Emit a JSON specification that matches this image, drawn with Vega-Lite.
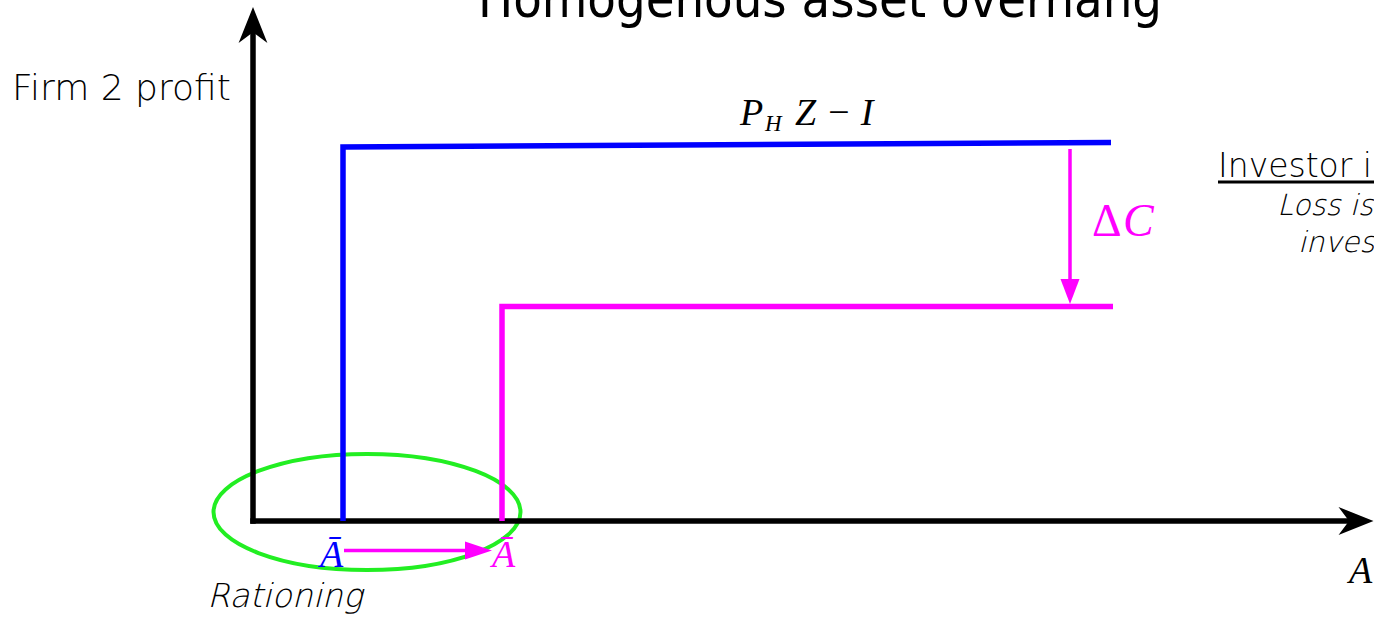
{
  "$schema": "https://vega.github.io/schema/vega-lite/v6.json",
  "width": 1374,
  "height": 619,
  "autosize": {"type": "fit", "contains": "padding"},
  "padding": 0,
  "background": "white",
  "config": {"view": {"stroke": null}},
  "datasets": {
    "axes": [
      {"name": "profit axis", "x": 0, "y": 0, "x2": 0, "y2": 490},
      {"name": "A axis", "x": 0, "y": 0, "x2": 1096, "y2": 0}
    ],
    "axisHeadsUp": [{"x": 0, "y": 496}],
    "axisHeadsRight": [{"x": 1103, "y": 0}],
    "blue": [
      {"order": 1, "x": 90, "y": 0},
      {"order": 2, "x": 90, "y": 374},
      {"order": 3, "x": 858, "y": 378.5}
    ],
    "magenta": [
      {"order": 1, "x": 249, "y": 0},
      {"order": 2, "x": 249, "y": 214.5},
      {"order": 3, "x": 860, "y": 214.5}
    ],
    "shafts": [
      {"name": "delta C", "x": 817, "y": 372, "x2": 817, "y2": 236},
      {"name": "A shift", "x": 91, "y": -29.5, "x2": 217, "y2": -29.5}
    ],
    "headDown": [{"x": 817, "y": 229.5}],
    "headRight": [{"x": 225.5, "y": -29.5}],
    "ellipse": [{"x": 114, "y": 9}],
    "underline": [{"x": 965, "y": 339, "x2": 1121, "y2": 339}],
    "title": [{"x": 567, "y": 504, "text": "Homogenous asset overhang"}],
    "sansProfit": [{"x": -241, "y": 421, "text": "Firm 2 profit"}],
    "sansInvestor": [{"x": 965, "y": 344, "text": "Investor i"}],
    "sansRationing": [{"x": -46, "y": -86, "text": "Rationing"}],
    "sansItalic": [
      {"x": 1024, "y": 306, "text": "Loss is"},
      {"x": 1045, "y": 269, "text": "inves"}
    ],
    "mathBig": [
      {"x": 487, "y": 396, "text": "P"},
      {"x": 542, "y": 396, "text": "Z − I"},
      {"x": 1096, "y": -62, "text": "A"}
    ],
    "mathSub": [{"x": 512, "y": 390, "text": "H"}],
    "abarBlue": [{"x": 67, "y": -46, "text": "Ā"}],
    "abarMagenta": [{"x": 239, "y": -46, "text": "Ā"}],
    "deltaUp": [{"x": 839, "y": 285, "text": "Δ"}],
    "deltaC": [{"x": 870, "y": 285, "text": "C"}]
  },
  "encoding": {
    "x": {"field": "x", "type": "quantitative", "scale": {"domain": [-253, 1121], "nice": false, "zero": false}, "axis": null},
    "y": {"field": "y", "type": "quantitative", "scale": {"domain": [-98, 521], "nice": false, "zero": false}, "axis": null}
  },
  "layer": [
    {
      "data": {"name": "ellipse"},
      "mark": {"type": "point", "clip": true, "filled": false, "stroke": "#22ee22", "strokeWidth": 4, "opacity": 1, "size": 94249,
        "shape": "M-1,0 A1,0.378 0 1,1 1,0 A1,0.378 0 1,1 -1,0 Z"}
    },
    {
      "data": {"name": "axes"},
      "mark": {"type": "rule", "clip": true, "color": "black", "strokeWidth": 5.5, "strokeCap": "square"},
      "encoding": {"x2": {"field": "x2"}, "y2": {"field": "y2"}}
    },
    {
      "data": {"name": "axisHeadsUp"},
      "mark": {"type": "point", "clip": true, "filled": true, "fill": "black", "stroke": null, "opacity": 1, "size": 1296,
        "shape": "M0,-1 L0.8,1 L0,0.4 L-0.8,1 Z"}
    },
    {
      "data": {"name": "axisHeadsRight"},
      "mark": {"type": "point", "clip": true, "filled": true, "fill": "black", "stroke": null, "opacity": 1, "size": 1225,
        "shape": "M1,0 L-1,-0.8 L-0.4,0 L-1,0.8 Z"}
    },
    {
      "data": {"name": "blue"},
      "mark": {"type": "line", "clip": true, "color": "#0000ff", "strokeWidth": 5.5, "strokeJoin": "miter"},
      "encoding": {"order": {"field": "order", "type": "quantitative"}}
    },
    {
      "data": {"name": "magenta"},
      "mark": {"type": "line", "clip": true, "color": "#ff00ff", "strokeWidth": 5.5, "strokeJoin": "miter"},
      "encoding": {"order": {"field": "order", "type": "quantitative"}}
    },
    {
      "data": {"name": "shafts"},
      "mark": {"type": "rule", "clip": true, "color": "#ff00ff", "strokeWidth": 3.5},
      "encoding": {"x2": {"field": "x2"}, "y2": {"field": "y2"}}
    },
    {
      "data": {"name": "headDown"},
      "mark": {"type": "point", "clip": true, "filled": true, "fill": "#ff00ff", "stroke": null, "opacity": 1, "size": 625,
        "shape": "M0,1 L-0.76,-1 L0.76,-1 Z"}
    },
    {
      "data": {"name": "headRight"},
      "mark": {"type": "point", "clip": true, "filled": true, "fill": "#ff00ff", "stroke": null, "opacity": 1, "size": 729,
        "shape": "M1,0 L-1,-0.667 L-1,0.667 Z"}
    },
    {
      "data": {"name": "underline"},
      "mark": {"type": "rule", "clip": true, "color": "black", "strokeWidth": 3},
      "encoding": {"x2": {"field": "x2"}, "y2": {"field": "y2"}}
    },
    {
      "data": {"name": "title"},
      "mark": {"type": "text", "clip": true, "align": "center", "baseline": "alphabetic", "font": "Liberation Sans Narrow, DejaVu Sans Condensed, sans-serif", "fontSize": 52, "color": "black"},
      "encoding": {"text": {"field": "text"}}
    },
    {
      "data": {"name": "sansProfit"},
      "mark": {"type": "text", "clip": true, "align": "left", "baseline": "alphabetic", "font": "DejaVu Sans", "fontWeight": 200, "fontSize": 36, "color": "black"},
      "encoding": {"text": {"field": "text"}}
    },
    {
      "data": {"name": "sansInvestor"},
      "mark": {"type": "text", "clip": true, "align": "left", "baseline": "alphabetic", "font": "DejaVu Sans", "fontWeight": 200, "fontSize": 33, "color": "black"},
      "encoding": {"text": {"field": "text"}}
    },
    {
      "data": {"name": "sansRationing"},
      "mark": {"type": "text", "clip": true, "align": "left", "baseline": "alphabetic", "font": "DejaVu Sans Light, DejaVu Sans ExtraLight, DejaVu Sans", "fontWeight": 200, "fontStyle": "italic", "fontSize": 33, "color": "black"},
      "encoding": {"text": {"field": "text"}}
    },
    {
      "data": {"name": "sansItalic"},
      "mark": {"type": "text", "clip": true, "align": "left", "baseline": "alphabetic", "font": "DejaVu Sans Light, DejaVu Sans ExtraLight, DejaVu Sans", "fontWeight": 200, "fontStyle": "italic", "fontSize": 29, "color": "black"},
      "encoding": {"text": {"field": "text"}}
    },
    {
      "data": {"name": "mathBig"},
      "mark": {"type": "text", "clip": true, "align": "left", "baseline": "alphabetic", "font": "Liberation Serif", "fontStyle": "italic", "fontSize": 38, "color": "black"},
      "encoding": {"text": {"field": "text"}}
    },
    {
      "data": {"name": "mathSub"},
      "mark": {"type": "text", "clip": true, "align": "left", "baseline": "alphabetic", "font": "Liberation Serif", "fontStyle": "italic", "fontSize": 23, "color": "black"},
      "encoding": {"text": {"field": "text"}}
    },
    {
      "data": {"name": "abarBlue"},
      "mark": {"type": "text", "clip": true, "align": "left", "baseline": "alphabetic", "font": "Liberation Serif", "fontStyle": "italic", "fontSize": 38, "color": "#0000ff"},
      "encoding": {"text": {"field": "text"}}
    },
    {
      "data": {"name": "abarMagenta"},
      "mark": {"type": "text", "clip": true, "align": "left", "baseline": "alphabetic", "font": "Liberation Serif", "fontStyle": "italic", "fontSize": 38, "color": "#ff00ff"},
      "encoding": {"text": {"field": "text"}}
    },
    {
      "data": {"name": "deltaUp"},
      "mark": {"type": "text", "clip": true, "align": "left", "baseline": "alphabetic", "font": "Liberation Serif", "fontSize": 46, "color": "#ff00ff"},
      "encoding": {"text": {"field": "text"}}
    },
    {
      "data": {"name": "deltaC"},
      "mark": {"type": "text", "clip": true, "align": "left", "baseline": "alphabetic", "font": "Liberation Serif", "fontStyle": "italic", "fontSize": 46, "color": "#ff00ff"},
      "encoding": {"text": {"field": "text"}}
    }
  ]
}
